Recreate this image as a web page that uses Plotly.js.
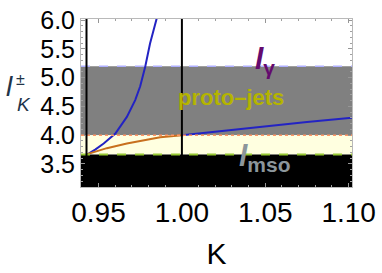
<!DOCTYPE html>
<html><head><meta charset="utf-8">
<script src="https://cdn.plot.ly/plotly-3.0.1.min.js"></script>
<style>html,body{margin:0;padding:0;background:#fff;}#chart{width:382px;height:273px;}</style>
</head><body><div id="chart"></div>
<script>
// Data
var blueLeftK = [0.9428, 0.9441, 0.9480, 0.9531, 0.9601, 0.9670, 0.9720, 0.9750, 0.9780, 0.9809, 0.9849, 0.9860];
var blueLeftL = [3.667, 3.680, 3.750, 3.856, 4.030, 4.318, 4.610, 4.850, 5.190, 5.595, 6.030, 6.200];
var orangeK = [0.9428, 0.9480, 0.9550, 0.9670, 0.9770, 0.9870, 1.0000];
var orangeL = [3.667, 3.715, 3.775, 3.856, 3.915, 3.965, 4.000];
var blueRightK = [1.000, 1.025, 1.050, 1.075, 1.102];
var blueRightL = [4.000, 4.080, 4.155, 4.230, 4.305];
var verticalK = [0.9428, 1.0];
var levelGamma = 5.2;      // top of grey band (l_gamma)
var levelJet = 4.0;        // bottom of grey band
var levelMso = 3.667;      // top of black band (l_mso)
var yBottom = 3.1, yTop = 6.02;
var xTickVals = [0.95, 1.00, 1.05, 1.10];
var xTickText = ["0.95", "1.00", "1.05", "1.10"];
var yTickVals = [3.5, 4.0, 4.5, 5.0, 5.5, 6.0];
var yTickText = ["3.5", "4.0", "4.5", "5.0", "5.5", "6.0"];
var labelTexts = ["<i>l</i><sub>γ</sub>", "proto–jets", "<i>l</i><sub>mso</sub>"];
var labelK = [1.050, 1.0294, 1.050];
var labelL = [5.30, 4.66, 3.62];

var traces = [
  {x: blueLeftK, y: blueLeftL, mode: 'lines', line: {color: 'rgb(35,35,195)', width: 2}, hoverinfo: 'skip'},
  {x: orangeK, y: orangeL, mode: 'lines', line: {color: 'rgb(200,112,30)', width: 2}, hoverinfo: 'skip'},
  {x: blueRightK, y: blueRightL, mode: 'lines', line: {color: 'rgb(35,35,195)', width: 2}, hoverinfo: 'skip'}
];

var shapes = [
  {type: 'rect', xref: 'paper', yref: 'y', x0: 0, x1: 1, y0: levelJet, y1: levelGamma, fillcolor: 'rgb(128,128,128)', line: {width: 0}, layer: 'below'},
  {type: 'rect', xref: 'paper', yref: 'y', x0: 0, x1: 1, y0: levelMso, y1: levelJet, fillcolor: 'rgb(255,255,224)', line: {width: 0}, layer: 'below'},
  {type: 'rect', xref: 'paper', yref: 'y', x0: 0, x1: 1, y0: yBottom, y1: levelMso, fillcolor: 'rgb(0,0,0)', line: {width: 0}, layer: 'below'},
  {type: 'line', xref: 'paper', yref: 'y', x0: 0, x1: 1, y0: levelGamma, y1: levelGamma, line: {color: 'rgb(175,175,255)', width: 1.5, dash: 'dash'}},
  {type: 'line', xref: 'paper', yref: 'y', x0: 0, x1: 1, y0: levelJet, y1: levelJet, line: {color: 'rgb(255,150,100)', width: 1.5, dash: 'dot'}},
  {type: 'line', xref: 'paper', yref: 'y', x0: 0, x1: 1, y0: levelMso, y1: levelMso, line: {color: 'rgb(150,200,50)', width: 2, dash: 'dash'}}
];
verticalK.forEach(function (k) {
  shapes.push({type: 'line', xref: 'x', yref: 'paper', x0: k, x1: k, y0: 0, y1: 1, line: {color: 'black', width: 2}});
});

var labelColors = ['rgb(100,10,110)', 'rgb(180,180,0)', 'rgb(140,150,155)'];
var labelSizes = [30, 22, 30];
var annotations = labelTexts.map(function (t, i) {
  return {x: labelK[i], y: labelL[i], xref: 'x', yref: 'y', text: '<b>' + t + '</b>', showarrow: false,
    font: {family: 'Liberation Sans, Arial, sans-serif', size: labelSizes[i], color: labelColors[i]}};
});
// y-axis title l_K^±, stacked super/subscript
annotations.push({xref: 'paper', yref: 'paper', x: -0.283, y: 0.600, text: '<i>l</i>', showarrow: false,
  font: {family: 'Liberation Sans, Arial, sans-serif', size: 28, color: '#223449'}});
annotations.push({xref: 'paper', yref: 'paper', x: -0.247, y: 0.70, text: '±', showarrow: false,
  font: {family: 'Liberation Sans, Arial, sans-serif', size: 16, color: '#223449'}});
annotations.push({xref: 'paper', yref: 'paper', x: -0.243, y: 0.49, text: '<i>K</i>', showarrow: false,
  font: {family: 'Liberation Sans, Arial, sans-serif', size: 19, color: '#223449'}});

var axisCommon = {
  showgrid: false, zeroline: false, showline: true, linecolor: 'rgb(185,185,185)', linewidth: 1, mirror: 'ticks',
  ticks: 'inside', ticklen: 4, tickcolor: 'rgb(150,150,150)', tickwidth: 1,
  tickfont: {family: 'Liberation Sans, Arial, sans-serif', size: 28, color: '#000'}
};

var layout = {
  width: 382, height: 273,
  margin: {l: 81, r: 30, t: 19, b: 86, pad: 0},
  paper_bgcolor: '#fff', plot_bgcolor: '#fff',
  showlegend: false,
  xaxis: Object.assign({}, axisCommon, {
    range: [0.9395, 1.102], tickmode: 'array', tickvals: xTickVals, ticktext: xTickText,
    minor: {dtick: 0.01, ticks: 'inside', ticklen: 2, tickcolor: 'rgb(160,160,160)'},
    title: {text: 'K', font: {family: 'Liberation Sans, Arial, sans-serif', size: 30, color: '#000'}, standoff: 16}
  }),
  yaxis: Object.assign({}, axisCommon, {
    range: [yBottom, yTop], tickmode: 'array', tickvals: yTickVals, ticktext: yTickText,
    tickfont: {family: 'Liberation Sans, Arial, sans-serif', size: 25, color: '#000'},
    minor: {dtick: 0.1, ticks: 'inside', ticklen: 2, tickcolor: 'rgb(160,160,160)'}
  }),
  shapes: shapes,
  annotations: annotations
};

Plotly.newPlot('chart', traces, layout, {staticPlot: true, displayModeBar: false});
</script>
</body></html>
